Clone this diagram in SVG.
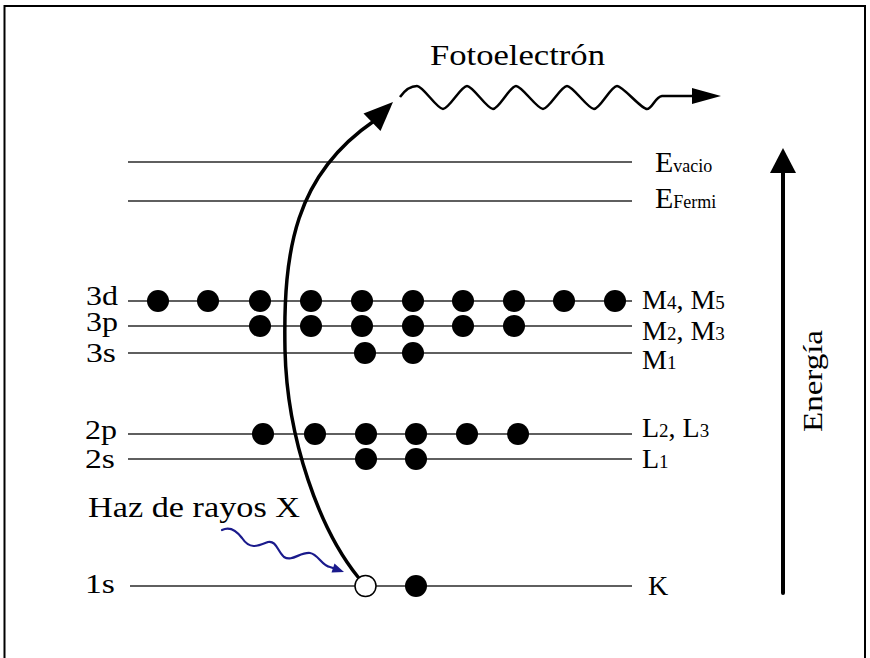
<svg xmlns="http://www.w3.org/2000/svg" width="870" height="658" viewBox="0 0 870 658">
<style>
text{font-family:"Liberation Serif","Times New Roman",serif;fill:#000}
.lbl{font-size:28px}
.sub{font-size:19px}
.lvl{stroke:#2a2a2a;stroke-width:1.4;fill:none}
.e{fill:#000}
.hole{fill:#fff;stroke:#000;stroke-width:1.5}
.thick{stroke:#000;fill:none;stroke-linecap:round}
</style>
<rect x="0" y="0" width="870" height="658" fill="#fff"/>
<rect x="4.5" y="6" width="860.5" height="720" fill="none" stroke="#000" stroke-width="2"/>

<g id="title">
<text x="430" y="65" font-size="30" textLength="175" lengthAdjust="spacingAndGlyphs">Fotoelectrón</text>
</g>

<g id="vacio">
<line class="lvl" x1="128" y1="162" x2="632" y2="162"/>
<text x="655" y="172"><tspan font-size="30">E</tspan><tspan font-size="18">vacio</tspan></text>
</g>
<g id="fermi">
<line class="lvl" x1="128" y1="201" x2="632" y2="201"/>
<text x="655" y="208"><tspan font-size="30">E</tspan><tspan font-size="18">Fermi</tspan></text>
</g>

<g id="level-3d">
<line class="lvl" x1="128" y1="301" x2="632" y2="301"/>
<text class="lbl" x="86" y="305" textLength="32" lengthAdjust="spacingAndGlyphs">3d</text>
<text class="lbl" x="642" y="309">M<tspan class="sub">4</tspan>, M<tspan class="sub">5</tspan></text>
<circle class="e" cx="158" cy="301" r="11"/><circle class="e" cx="208" cy="301" r="11"/>
<circle class="e" cx="260" cy="301" r="11"/><circle class="e" cx="311" cy="301" r="11"/>
<circle class="e" cx="362" cy="301" r="11"/><circle class="e" cx="413" cy="301" r="11"/>
<circle class="e" cx="463" cy="301" r="11"/><circle class="e" cx="514" cy="301" r="11"/>
<circle class="e" cx="564" cy="301" r="11"/><circle class="e" cx="615" cy="301" r="11"/>
</g>
<g id="level-3p">
<line class="lvl" x1="128" y1="326" x2="632" y2="326"/>
<text class="lbl" x="86" y="331" textLength="32" lengthAdjust="spacingAndGlyphs">3p</text>
<text class="lbl" x="642" y="340">M<tspan class="sub">2</tspan>, M<tspan class="sub">3</tspan></text>
<circle class="e" cx="260" cy="326" r="11"/><circle class="e" cx="311" cy="326" r="11"/>
<circle class="e" cx="362" cy="326" r="11"/><circle class="e" cx="413" cy="326" r="11"/>
<circle class="e" cx="463" cy="326" r="11"/><circle class="e" cx="514" cy="326" r="11"/>
</g>
<g id="level-3s">
<line class="lvl" x1="128" y1="353" x2="632" y2="353"/>
<text class="lbl" x="86" y="362" textLength="30" lengthAdjust="spacingAndGlyphs">3s</text>
<text class="lbl" x="642" y="369">M<tspan class="sub">1</tspan></text>
<circle class="e" cx="365" cy="353" r="11"/><circle class="e" cx="413" cy="353" r="11"/>
</g>
<g id="level-2p">
<line class="lvl" x1="128" y1="434" x2="632" y2="434"/>
<text class="lbl" x="85" y="439" textLength="32" lengthAdjust="spacingAndGlyphs">2p</text>
<text class="lbl" x="642" y="437">L<tspan class="sub">2</tspan>, L<tspan class="sub">3</tspan></text>
<circle class="e" cx="263" cy="434" r="11"/><circle class="e" cx="315" cy="434" r="11"/>
<circle class="e" cx="366" cy="434" r="11"/><circle class="e" cx="416" cy="434" r="11"/>
<circle class="e" cx="467" cy="434" r="11"/><circle class="e" cx="518" cy="434" r="11"/>
</g>
<g id="level-2s">
<line class="lvl" x1="128" y1="459" x2="632" y2="459"/>
<text class="lbl" x="85" y="468" textLength="30" lengthAdjust="spacingAndGlyphs">2s</text>
<text class="lbl" x="642" y="468">L<tspan class="sub">1</tspan></text>
<circle class="e" cx="366" cy="459" r="11"/><circle class="e" cx="416" cy="459" r="11"/>
</g>
<g id="level-1s">
<line class="lvl" x1="130" y1="586" x2="632" y2="586"/>
<text class="lbl" x="85" y="593" textLength="30" lengthAdjust="spacingAndGlyphs">1s</text>
<text class="lbl" x="648" y="595">K</text>
<circle class="e" cx="416" cy="586" r="11"/>
<circle class="hole" cx="365.5" cy="586" r="10.5"/>
</g>

<g id="xray-label">
<text x="88" y="517" font-size="30" textLength="212" lengthAdjust="spacingAndGlyphs">Haz de rayos X</text>
</g>

<g id="energy-axis">
<line class="thick" x1="783" y1="593" x2="783" y2="170" stroke-width="4"/>
<polygon points="783,148 796,173 770,173" fill="#000"/>
<text font-size="28" transform="translate(822,381) rotate(-90)" text-anchor="middle" textLength="102" lengthAdjust="spacingAndGlyphs">Energía</text>
</g>

<g id="connectors">
<path class="thick" stroke-width="3.5" d="M 358 577 C 320 530, 287 440, 285 350 C 283 250, 295 175, 374 121"/>
<polygon points="393,102 380.5,131 363.5,113.5" fill="#000"/>
<path stroke="#000" stroke-width="2.5" fill="none" stroke-linejoin="round" d="M 400 97 C 405 90, 410 86, 417 86 C 423 86, 437 109, 443 109 C 449 109, 461 86, 467 86 C 473 86, 487 109, 493 109 C 499 109, 510 86, 516 86 C 522 86, 537 109, 543 109 C 549 109, 561 86, 567 86 C 573 86, 588 109, 594 109 C 600 109, 611 86, 617 86 C 623 86, 641 109, 647 109 C 652 109, 655 97, 662 96 L 694 96"/>
<polygon points="692,88 721,96 692,104" fill="#000"/>
<path stroke="#1a1a8c" stroke-width="2.2" fill="none" stroke-linecap="round" d="M 222 530 C 230 526, 236 530, 242 538 C 250 550, 258 546, 268 542 C 276 540, 278 552, 284 557 C 292 562, 300 552, 310 553 C 318 554, 322 566, 330 567 L 336 569"/>
<polygon points="344,572 331.5,572.5 334.5,563.5" fill="#1a1a8c"/>
</g>
</svg>
